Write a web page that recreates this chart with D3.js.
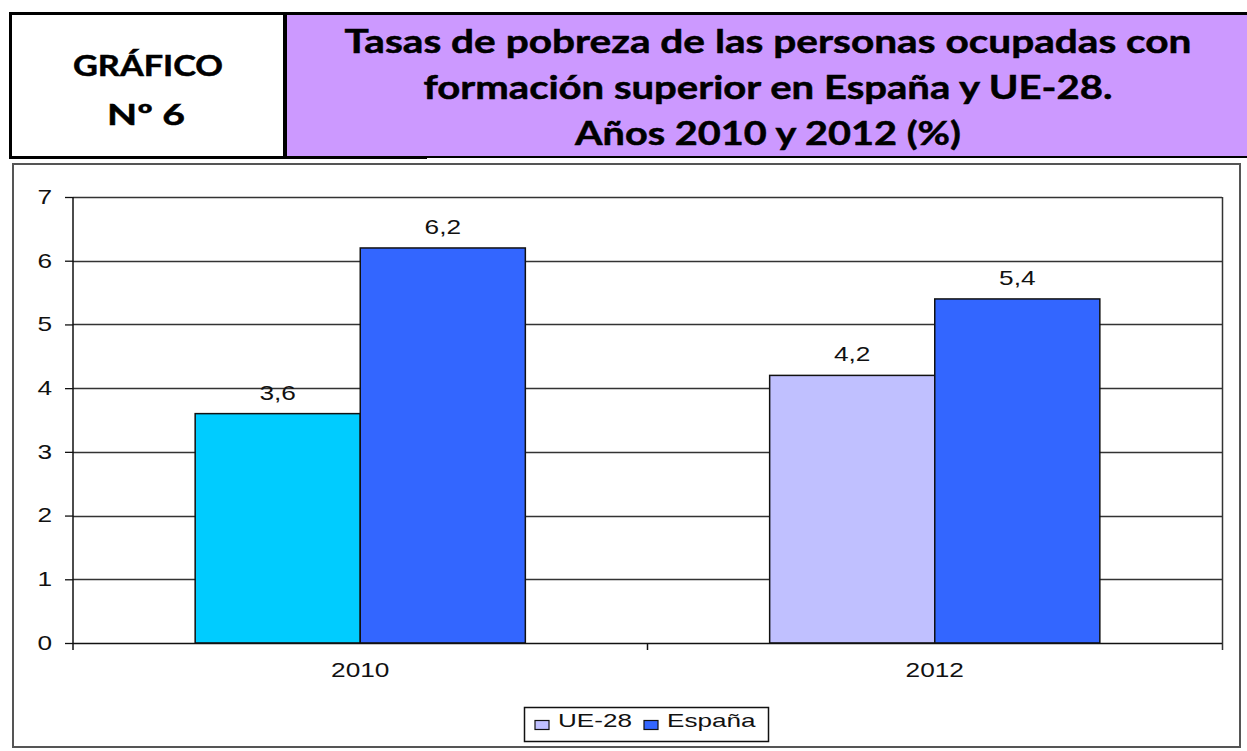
<!DOCTYPE html>
<html><head><meta charset="utf-8">
<script src="https://cdn.jsdelivr.net/npm/d3@7"></script>
<style>body{margin:0;background:#fff}svg{display:block}</style>
</head><body>
<script>
// ---- data ----
const categories = ["2010", "2012"];
const seriesNames = ["UE-28", "España"];
const ue28 = [3.6, 4.2];
const espana = [6.2, 5.4];
const yTicks = [0, 1, 2, 3, 4, 5, 6, 7];
const titleLines = ["Tasas de pobreza de las personas ocupadas con", "formación superior en España y UE-28.", "Años 2010 y 2012 (%)"];
const labelLines = ["GRÁFICO", "Nº 6"];

// ---- styles ----
const W = 1247, H = 751;
const ueColorByYear = {"2010": "#00CCFF", "2012": "#C0C0FF"};
const espColor = "#3366FF";
const legendColors = ["#C0C0FF", "#3366FF"];
const plot = {left: 73, right: 1222, top: 197, bottom: 643};
const sx = 1.25;

const svg = d3.select("body").append("svg").attr("width", W).attr("height", H);
svg.append("rect").attr("width", W).attr("height", H).attr("fill", "#fff");

// ---- header ----
const hdr = svg.append("g");
hdr.append("rect").attr("x", 287).attr("y", 14).attr("width", W - 287).attr("height", 143).attr("fill", "#CC99FF");
hdr.append("line").attr("x1", 9).attr("x2", W).attr("y1", 13.5).attr("y2", 13.5).attr("stroke", "#000").attr("stroke-width", 3);
hdr.append("line").attr("x1", 10.5).attr("x2", 10.5).attr("y1", 12).attr("y2", 159).attr("stroke", "#000").attr("stroke-width", 3);
hdr.append("line").attr("x1", 285).attr("x2", 285).attr("y1", 12).attr("y2", 159).attr("stroke", "#000").attr("stroke-width", 4);
hdr.append("line").attr("x1", 9).attr("x2", W).attr("y1", 157).attr("y2", 157).attr("stroke", "#000").attr("stroke-width", 2);
hdr.append("line").attr("x1", 9).attr("x2", 427).attr("y1", 157.5).attr("y2", 157.5).attr("stroke", "#000").attr("stroke-width", 3);

const labelY = [76, 125], labelLen = [150, 78];
hdr.selectAll("text.lab").data(labelLines).join("text")
  .attr("class", "lab")
  .attr("x", (d, i) => i === 0 ? 73 : 107).attr("y", (d, i) => labelY[i])
  .attr("textLength", (d, i) => labelLen[i]).attr("lengthAdjust", "spacingAndGlyphs")
  .attr("font-family", "Lato, 'Open Sans', sans-serif").attr("font-weight", "bold")
  .attr("font-size", 29).attr("fill", "#000").attr("stroke", "#000").attr("stroke-width", 0.5)
  .text(d => d);

const titleY = [53, 98.5, 145], titleLen = [847, 689, 386];
hdr.selectAll("text.tit").data(titleLines).join("text")
  .attr("class", "tit")
  .attr("x", (d, i) => 768 - titleLen[i] / 2).attr("y", (d, i) => titleY[i])
  .attr("textLength", (d, i) => titleLen[i]).attr("lengthAdjust", "spacingAndGlyphs")
  .attr("font-family", "Lato, 'Open Sans', sans-serif").attr("font-weight", "bold")
  .attr("font-size", 33).attr("fill", "#000").attr("stroke", "#000").attr("stroke-width", 0.5)
  .text(d => d);

// ---- chart frame ----
svg.append("rect").attr("x", 13).attr("y", 164).attr("width", 1227).attr("height", 583)
  .attr("fill", "#fff").attr("stroke", "#555").attr("stroke-width", 2);

// ---- scales ----
const y = d3.scaleLinear().domain([0, 7]).range([plot.bottom, plot.top]);
const x0 = d3.scaleBand().domain(categories).range([plot.left, plot.right]).padding(0);
const x1 = d3.scaleBand().domain(seriesNames).range([0, x0.bandwidth()]).paddingInner(0).paddingOuter(0.74);

const g = svg.append("g");
// gridlines
g.selectAll("line.grid").data(yTicks.filter(t => t > 0)).join("line")
  .attr("x1", plot.left).attr("x2", plot.right)
  .attr("y1", d => Math.round(y(d)) + 0.5).attr("y2", d => Math.round(y(d)) + 0.5)
  .attr("stroke", "#333").attr("stroke-width", 1.3);
// right border
g.append("line").attr("x1", plot.right + 0.5).attr("x2", plot.right + 0.5)
  .attr("y1", plot.top).attr("y2", plot.bottom + 7).attr("stroke", "#333").attr("stroke-width", 1.5);

// bars
const rows = categories.map((c, i) => ({cat: c, vals: [
  {s: seriesNames[0], v: ue28[i], color: ueColorByYear[c]},
  {s: seriesNames[1], v: espana[i], color: espColor}]}));
const grp = g.selectAll("g.cat").data(rows).join("g").attr("class", "cat")
  .attr("transform", d => `translate(${x0(d.cat)},0)`);
grp.selectAll("rect").data(d => d.vals).join("rect")
  .attr("x", d => x1(d.s)).attr("y", d => y(d.v))
  .attr("width", x1.bandwidth()).attr("height", d => y(0) - y(d.v))
  .attr("fill", d => d.color).attr("stroke", "#111").attr("stroke-width", 1.5);
grp.selectAll("text").data(d => d.vals).join("text")
  .attr("transform", d => `translate(${x1(d.s) + x1.bandwidth() / 2},${y(d.v) - 14}) scale(${sx},1)`)
  .attr("text-anchor", "middle").attr("font-family", "'Liberation Sans', Arial, sans-serif")
  .attr("font-size", 21).attr("fill", "#111")
  .text(d => d3.format(".1f")(d.v).replace(".", ","));

// y axis
const yAxis = d3.axisLeft(y).tickValues(yTicks).tickSize(8).tickPadding(13).tickFormat(d3.format("d"));
const ya = svg.append("g").attr("transform", `translate(${plot.left},0)`).call(yAxis);
ya.select(".domain").attr("d", `M0,${plot.top}V${plot.bottom + 7}`).attr("stroke", "#111").attr("stroke-width", 1.5);
ya.selectAll(".tick line").attr("stroke", "#111").attr("stroke-width", 1.3);
ya.selectAll(".tick text").attr("font-family", "'Liberation Sans', Arial, sans-serif")
  .attr("font-size", 21).attr("fill", "#111").attr("dy", "0.3em")
  .attr("transform", function() { const xx = +d3.select(this).attr("x"); return `translate(${xx * (1 - sx)},0) scale(${sx},1)`; });

// x axis
const xAxis = d3.axisBottom(x0).tickSize(0).tickPadding(0);
const xa = svg.append("g").attr("transform", `translate(0,${plot.bottom})`).call(xAxis);
xa.select(".domain").attr("d", `M${plot.left},0.5H${plot.right}`).attr("stroke", "#111").attr("stroke-width", 1.5);
xa.selectAll(".tick text").attr("font-family", "'Liberation Sans', Arial, sans-serif")
  .attr("font-size", 21).attr("fill", "#111").attr("dy", 0).attr("y", 0)
  .attr("transform", `translate(0,34) scale(${sx},1)`);
xa.selectAll(".tick").attr("transform", d => `translate(${x0(d) + x0.bandwidth() / 2},0)`);
// category boundary ticks
xa.selectAll("line.sep").data(categories.slice(1)).join("line").attr("class", "sep")
  .attr("x1", d => x0(d)).attr("x2", d => x0(d)).attr("y1", 0).attr("y2", 7)
  .attr("stroke", "#111").attr("stroke-width", 1.5);

// legend
const lg = svg.append("g");
lg.append("rect").attr("x", 524.5).attr("y", 707.5).attr("width", 244).attr("height", 34)
  .attr("fill", "#fff").attr("stroke", "#111").attr("stroke-width", 1.5);
const legX = [535, 644];
const items = lg.selectAll("g.it").data(seriesNames).join("g").attr("class", "it")
  .attr("transform", (d, i) => `translate(${legX[i]},720)`);
items.append("rect").attr("width", 14).attr("height", 9).attr("y", 0.5)
  .attr("fill", (d, i) => legendColors[i]).attr("stroke", "#111").attr("stroke-width", 1.2);
items.append("text").attr("transform", `translate(23,7) scale(1.45,1)`)
  .attr("font-family", "'Liberation Sans', Arial, sans-serif").attr("font-size", 18)
  .attr("fill", "#111").text(d => d);
</script>
</body></html>
